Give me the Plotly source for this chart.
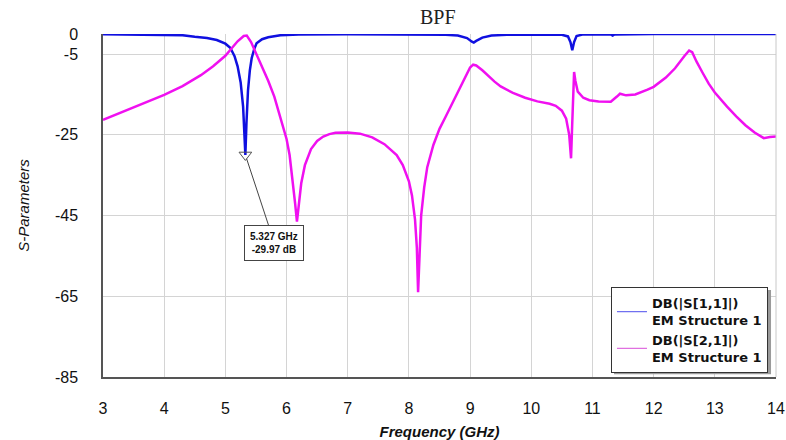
import plotly.graph_objects as go

# S21 (magenta) trace
f21 = [3.0, 3.5, 4.0, 4.3, 4.6, 4.8, 5.0, 5.1, 5.2, 5.3, 5.35, 5.42, 5.5, 5.6, 5.7, 5.8, 5.9, 6.0,
       6.05, 6.1, 6.14, 6.17, 6.2, 6.24, 6.3, 6.4, 6.5, 6.6, 6.7, 6.8, 7.0, 7.2, 7.4, 7.6, 7.8,
       7.9, 8.0, 8.05, 8.1, 8.13, 8.15, 8.17, 8.2, 8.25, 8.3, 8.4, 8.5, 8.6, 8.7, 8.8, 8.9, 9.0,
       9.05, 9.1, 9.2, 9.3, 9.4, 9.5, 9.7, 9.9, 10.1, 10.3, 10.4, 10.5, 10.57, 10.62, 10.65,
       10.67, 10.69, 10.70, 10.72, 10.76, 10.85, 10.95, 11.1, 11.3, 11.4, 11.45, 11.55, 11.7,
       11.9, 12.0, 12.2, 12.35, 12.5, 12.58, 12.63, 12.7, 12.8, 12.9, 13.0, 13.1, 13.2, 13.35,
       13.5, 13.65, 13.8, 13.9, 14.0]
s21 = [-21.3, -18.2, -15.1, -12.9, -10.2, -8.0, -5.4, -3.6, -1.8, -0.5, -0.4, -2.0, -4.8, -8.0,
       -11.6, -15.5, -20.5, -26.0, -30.0, -36.0, -42.0, -46.5, -42.0, -37.0, -32.5, -28.5, -26.5,
       -25.4, -24.8, -24.5, -24.4, -24.7, -25.6, -27.3, -30.0, -32.5, -36.5, -40.0, -46.0, -53.0,
       -64.0, -55.0, -45.0, -38.0, -33.0, -27.5, -23.5, -20.5, -17.5, -14.5, -11.5, -8.3, -7.6,
       -7.8, -9.0, -10.5, -11.8, -13.0, -14.6, -15.8, -16.7, -17.3, -17.8, -19.0, -21.0, -25.0,
       -30.8, -22.0, -12.0, -9.4, -11.5, -14.3, -15.8, -16.4, -16.7, -16.8, -15.5, -14.8, -15.2,
       -15.0, -13.8, -13.1, -10.8, -8.5, -5.5, -4.1, -4.5, -6.8, -9.6, -12.3, -14.5, -16.3, -18.0,
       -20.4, -22.6, -24.4, -25.8, -25.5, -25.4]

# S11 (blue) trace
f11 = [3.0, 4.0, 4.3, 4.5, 4.7, 4.86, 5.0, 5.08, 5.15, 5.2, 5.25, 5.29, 5.31, 5.327, 5.345, 5.37,
       5.4, 5.43, 5.47, 5.51, 5.6, 5.7, 5.9, 6.2, 7.0, 8.0, 8.6, 8.8, 8.95, 9.03, 9.06, 9.1, 9.2,
       9.35, 9.6, 10.0, 10.5, 10.6, 10.64, 10.67, 10.7, 10.74, 10.85, 11.3, 11.33, 11.36, 12.0, 14.0]
s11 = [-0.05, -0.1, -0.3, -0.7, -1.0, -1.5, -2.4, -3.4, -5.5, -8.0, -12.0, -18.0, -24.0, -29.97,
       -22.0, -14.0, -9.0, -6.0, -3.8, -2.3, -1.3, -0.8, -0.3, -0.1, -0.05, -0.1, -0.2, -0.4, -1.0,
       -1.9, -2.1, -1.7, -0.9, -0.4, -0.2, -0.1, -0.2, -0.6, -2.0, -4.0, -2.0, -0.5, -0.1, -0.1,
       -0.4, -0.1, 0.0, 0.0]

marker_f = 5.327
marker_db = -29.97

legend_names = ["DB(|S[1,1]|)<br>EM Structure 1", "DB(|S[2,1]|)<br>EM Structure 1"]
x_ticks = [3, 4, 5, 6, 7, 8, 9, 10, 11, 12, 13, 14]
x_ticktext = ["3", "4", "5", "6", "7", "8", "9", "10", "11", "12", "13", "14"]
y_ticks = [0, -5, -25, -45, -65, -85]
y_ticktext = ["0", "-5", "-25", "-45", "-65", "-85"]

fig = go.Figure()
fig.add_trace(go.Scatter(x=f11, y=s11, mode="lines", showlegend=False,
                         line=dict(color="#1010E0", width=2.5)))
fig.add_trace(go.Scatter(x=f21, y=s21, mode="lines", showlegend=False,
                         line=dict(color="#F010F0", width=2.5)))
# legend entries (thin sample lines, as in the reference)
fig.add_trace(go.Scatter(x=[None], y=[None], mode="lines", name=legend_names[0],
                         line=dict(color="#7070F0", width=1.2)))
fig.add_trace(go.Scatter(x=[None], y=[None], mode="lines", name=legend_names[1],
                         line=dict(color="#E070E0", width=1.2)))
fig.add_trace(go.Scatter(x=[marker_f], y=[marker_db], mode="markers", showlegend=False,
                         marker=dict(symbol="triangle-down-open", size=11,
                                     color="#555555", line=dict(width=1)),
                         hoverinfo="skip"))

fig.add_annotation(x=marker_f, y=marker_db,
                   text="<b>%.3f GHz<br>%.2f dB</b>" % (marker_f, marker_db),
                   showarrow=True, arrowhead=0, arrowcolor="#444444", arrowwidth=1,
                   ax=29, ay=88, standoff=4,
                   font=dict(family="Arial", size=10, color="#111111"),
                   bgcolor="white", bordercolor="#444444", borderwidth=1, borderpad=5)

# right frame edge (light, like the grid)
fig.add_shape(type="line", xref="paper", yref="paper", x0=1, x1=1, y0=0, y1=1,
              line=dict(color="#C8C8C8", width=1))
# legend drop shadow
fig.add_shape(type="rect", xref="paper", yref="paper", x0=0.7593, x1=0.9926, y0=0.008, y1=0.2536,
              line=dict(width=0), fillcolor="#9A9A9A", layer="above")

fig.update_layout(
    width=786, height=440,
    margin=dict(l=103, r=10, t=34, b=63),
    paper_bgcolor="white", plot_bgcolor="white",
    title=dict(text="BPF", x=0.557, xanchor="center", y=0.962, yanchor="middle",
               font=dict(family="Liberation Serif, Times New Roman, serif", size=20, color="#222222")),
    font=dict(family="Arial, Liberation Sans, sans-serif", color="#111111"),
    legend=dict(x=0.7548, xanchor="left", y=0.262, yanchor="top",
                bgcolor="white", bordercolor="#333333", borderwidth=1,
                font=dict(family="DejaVu Sans, Arial, sans-serif", size=13, color="#111111",
                          weight="bold"),
                tracegroupgap=7, itemwidth=30),
    xaxis=dict(range=[3, 14], tickvals=x_ticks, ticktext=x_ticktext, automargin=False,
               showgrid=True, gridcolor="#D4D4D4", gridwidth=1,
               showline=True, linecolor="#555555", linewidth=1.5, zeroline=False,
               ticks="outside", ticklen=16, tickcolor="rgba(0,0,0,0)",
               tickfont=dict(size=16, color="#111111"),
               title=dict(text="<b><i>Frequency (GHz)</i></b>", standoff=11,
                          font=dict(size=15, color="#111111"))),
    yaxis=dict(range=[-85, 0], tickvals=y_ticks, ticktext=y_ticktext, automargin=False,
               showgrid=True, gridcolor="#D4D4D4", gridwidth=1,
               showline=True, linecolor="#555555", linewidth=1.5, zeroline=False,
               ticks="outside", ticklen=20, tickcolor="rgba(0,0,0,0)",
               tickfont=dict(size=16, color="#111111"),
               title=dict(text="<i>S-Parameters</i>", standoff=22,
                          font=dict(size=15, color="#111111"))),
)

fig.write_html("out.html", config={"displayModeBar": False},
               post_script="document.body.style.margin='0';document.body.style.overflow='hidden';")
